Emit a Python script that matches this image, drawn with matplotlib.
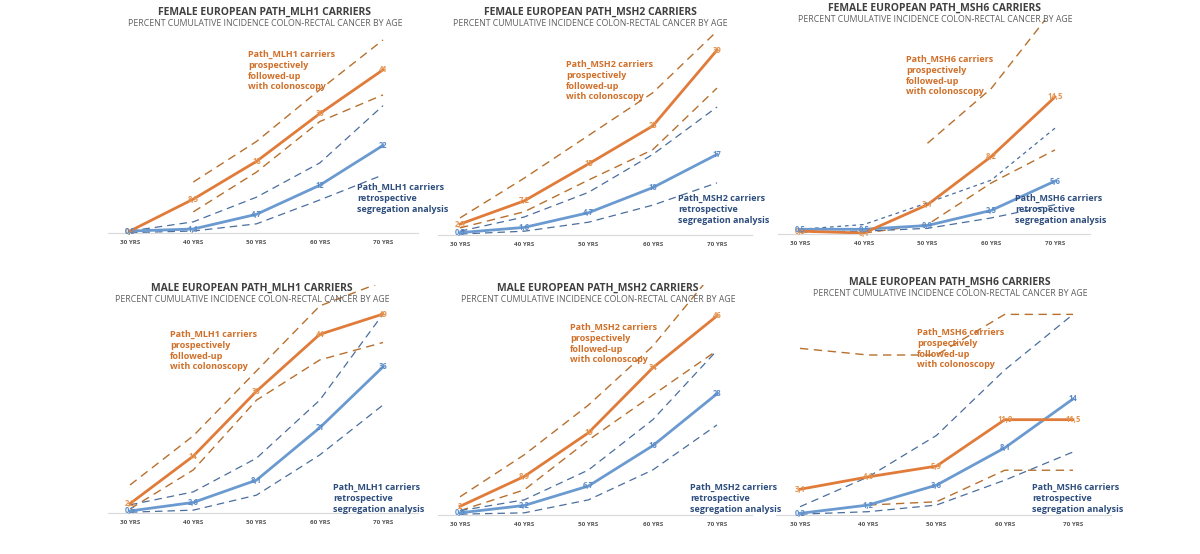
import matplotlib
matplotlib.use("Agg")
import matplotlib.pyplot as plt

plt.rcParams['font.family'] = ['Open Sans', 'DejaVu Sans']

ages = ["30 YRS", "40 YRS", "50 YRS", "60 YRS", "70 YRS"]
genes = ["MLH1", "MSH2", "MSH6", "MLH1", "MSH2", "MSH6"]
sexes = ["FEMALE", "FEMALE", "FEMALE", "MALE", "MALE", "MALE"]

pro = [[0.5, 8.5, 18, 30, 41], [2.3, 7.2, 15, 23, 39], [0.3, 0.1, 3.1, 8.2, 14.5],
       [2.3, 14, 30, 44, 49], [2, 8.9, 19, 34, 46], [3.1, 4.6, 5.9, 11.5, 11.5]]
pro_lbl = [["0,5", "8,5", "18", "30", "41"], ["2,3", "7,2", "15", "23", "39"],
           ["0,3", "0,1", "3,1", "8,2", "14,5"], ["2,3", "14", "30", "44", "49"],
           ["2", "8,9", "19", "34", "46"], ["3,1", "4,6", "5,9", "11,9", "11,5"]]
pro_hi = [[None, 12.8, 23, 36, 48.5], [3.6, 12, 21, 30, 43], [None, None, 9.6, 15.4, 24],
          [6.9, 19, 35, 51, 57], [4.2, 13.9, 25.4, 39, 57], [20.1, 19.3, 19.3, 24.2, 24.2]]
pro_lo = [[None, 5.3, 15.3, 28, 34.7], [1.5, 4.9, 11.6, 18, 31], [None, 0.1, 1.0, 5.4, 8.9],
          [1.0, 10.6, 27.8, 37.7, 42], [1.0, 5.8, 17.3, 27.7, 38], [None, 1.2, 1.6, 5.4, 5.4]]
ret = [[0.5, 1, 4.7, 12, 22], [0.5, 1.6, 4.7, 10, 17], [0.5, 0.5, 0.9, 2.5, 5.6],
       [0.5, 2.6, 8.1, 21, 36], [0.5, 2.2, 6.7, 16, 28], [0.2, 1.2, 3.6, 8.1, 14]]
ret_lbl = [["0,5", "1,1", "4,7", "12", "22"], ["0,5", "1,6", "4,7", "10", "17"],
           ["0,5", "0,5", "0,9", "2,5", "5,6"], ["0,5", "2,6", "8,1", "21", "36"],
           ["0,5", "2,2", "6,7", "16", "28"], ["0,2", "1,2", "3,6", "8,1", "14"]]
ret_hi = [[0.5, 2.8, 9, 17.6, 32], [0.8, 3.8, 9, 17, 27], [0.5, 1.0, 3.3, 5.7, 11.2],
          [2, 5.2, 13.5, 27.8, 49], [1, 3.5, 10.4, 22, 38], [1, 4.6, 9.6, 17.5, 24.2]]
ret_lo = [[0.1, 0.5, 2.3, 8.3, 14.6], [0.2, 0.8, 2.7, 6.3, 11], [0.2, 0.3, 0.6, 1.7, 3.1],
          [0.2, 0.7, 4.4, 14.3, 26.6], [0.2, 0.5, 3.5, 10.4, 20.8], [0.1, 0.4, 1.2, 4.2, 7.6]]

# layout (pixels): x of 30 YRS, x of 70 YRS, baseline y, px per unit
layout = [(130, 383, 233, 3.98), (460, 717, 235, 4.74), (800, 1055, 234, 9.45),
          (130, 383, 513, 4.06), (460, 717, 515, 4.33), (800, 1073, 515, 8.29)]
tops = [20, 20, 20, 285, 285, 285]
titles_xy = [(265, 12), (590, 12), (935, 8), (252, 288), (598, 288), (950, 282)]
ann_pro = [(248, 50), (566, 60), (906, 55), (170, 330), (570, 323), (917, 328)]
ann_ret = [(357, 183), (678, 194), (1015, 194), (333, 483), (690, 483), (1032, 483)]

W, H = 1200, 554
fig = plt.figure(figsize=(W/100, H/100), dpi=100)
ORANGE = "#E07B39"
BLUE = "#6A9AD0"
DORANGE = "#B8702E"
DBLUE = "#4A6E9E"
TXT_O = "#D0702A"
TXT_B = "#2E4E7E"

def seg(vals):
    xs = [i for i, v in enumerate(vals) if v is not None]
    return xs, [vals[i] for i in xs]

for k in range(6):
    x30, x70, base, sc = layout[k]
    step = (x70 - x30) / 4
    left = x30 - 0.35 * step
    right = x70 + 0.55 * step
    top = tops[k]
    ax = fig.add_axes([left / W, 1 - base / H, (right - left) / W, (base - top) / H])
    ax.set_xlim(-0.35, 4.55)
    ax.set_ylim(0, (base - top) / sc)
    for s in ax.spines.values():
        s.set_visible(False)
    ax.spines['bottom'].set_visible(True)
    ax.spines['bottom'].set_color("#d9d9d9")
    ax.set_yticks([])
    ax.set_xticks(range(5))
    ax.set_xticklabels(ages, fontsize=4.5, fontweight='bold', color="#555555")
    ax.tick_params(axis='x', length=0, pad=5)
    ax.patch.set_alpha(0)
    xs, ys = seg(pro_hi[k]); ax.plot(xs, ys, color=DORANGE, lw=1, dashes=(6, 4))
    xs, ys = seg(pro_lo[k]); ax.plot(xs, ys, color=DORANGE, lw=1, dashes=(6, 4))
    xs, ys = seg(ret_hi[k]); ax.plot(xs, ys, color=DBLUE, lw=0.9, dashes=(6, 4) if k != 2 else (3, 3))
    xs, ys = seg(ret_lo[k]); ax.plot(xs, ys, color=DBLUE, lw=0.9, dashes=(6, 4))
    ax.plot(range(5), ret[k], color=BLUE, lw=2)
    ax.plot(range(5), pro[k], color=ORANGE, lw=2)
    for i in range(5):
        ax.text(i, pro[k][i], pro_lbl[k][i], color="#E39450", fontsize=5.5, fontweight='bold',
                ha='center', va='center')
        ax.text(i, ret[k][i], ret_lbl[k][i], color="#5B8CC8", fontsize=5.5, fontweight='bold',
                ha='center', va='center')
    g = genes[k]
    tx, ty = titles_xy[k]
    fig.text(tx / W, 1 - ty / H, f"{sexes[k]} EUROPEAN PATH_{g} CARRIERS", fontsize=7.5,
             fontweight='bold', color="#404040", ha='center', va='center')
    fig.text(tx / W, 1 - (ty + 11) / H, "PERCENT CUMULATIVE INCIDENCE COLON-RECTAL CANCER BY AGE",
             fontsize=6.3, color="#606060", ha='center', va='center')
    px, py = ann_pro[k]
    fig.text(px / W, 1 - py / H, f"Path_{g} carriers\nprospectively\nfollowed-up\nwith colonoscopy",
             fontsize=6.5, fontweight='bold', color=TXT_O, ha='left', va='top', linespacing=1.25)
    rx, ry = ann_ret[k]
    fig.text(rx / W, 1 - ry / H, f"Path_{g} carriers\nretrospective\nsegregation analysis",
             fontsize=6.5, fontweight='bold', color=TXT_B, ha='left', va='top', linespacing=1.25)

fig.savefig("out.png", dpi=100)
